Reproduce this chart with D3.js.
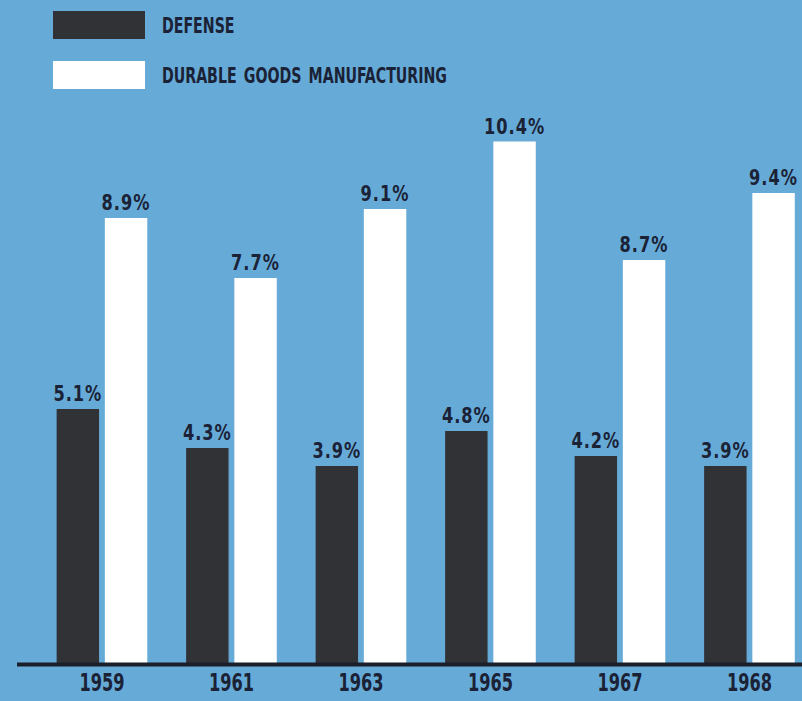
<!DOCTYPE html>
<html>
<head>
<meta charset="utf-8">
<script src="https://cdn.jsdelivr.net/npm/d3@7"></script>
<style>
  html, body { margin: 0; padding: 0; background: #66abd8; }
  svg { display: block; }
  text { font-family: "Liberation Sans Narrow", "DejaVu Sans Condensed", "Roboto", sans-serif; font-weight: bold; fill: #1b2236; }
</style>
</head>
<body>
<svg id="chart" width="802" height="701"></svg>
<script>
const years = ["1959", "1961", "1963", "1965", "1967", "1968"];
const seriesNames = ["DEFENSE", "DURABLE GOODS MANUFACTURING"];
// printed percentages
const defense = [5.1, 4.3, 3.9, 4.8, 4.2, 3.9];
const durable = [8.9, 7.7, 9.1, 10.4, 8.7, 9.4];
// bar heights as drawn in the picture (in % units)
const defenseDrawn = [5.08, 4.3, 3.94, 4.64, 4.14, 3.94];
const durableDrawn = [8.9, 7.7, 9.08, 10.43, 8.06, 9.4];
const seriesColors = ["#313236", "#ffffff"];

const svg = d3.select("#chart");
const W = 802, H = 701;

svg.append("rect").attr("width", W).attr("height", H).attr("fill", "#66abd8");

const baseY = 663;
const y = d3.scaleLinear().domain([0, 10]).range([baseY, baseY - 500]);

const x0 = d3.scaleBand().domain(years).range([37.2, 814.2]).paddingInner(0.3).paddingOuter(0.15);
const keys = ["defense", "durable"];
const x1 = d3.scaleBand().domain(keys).range([0, x0.bandwidth()]).paddingInner(0.12).paddingOuter(0);
const color = d3.scaleOrdinal().domain(keys).range(seriesColors);

const data = years.map((yr, i) => ({
  year: yr,
  defense: { label: defense[i], h: defenseDrawn[i] },
  durable: { label: durable[i], h: durableDrawn[i] }
}));

const groups = svg.append("g").selectAll("g")
  .data(data).join("g")
  .attr("transform", d => `translate(${x0(d.year)},0)`);

groups.selectAll("rect")
  .data(d => keys.map(k => ({ key: k, ...d[k] })))
  .join("rect")
  .attr("x", d => x1(d.key))
  .attr("y", d => y(d.h))
  .attr("width", x1.bandwidth())
  .attr("height", d => y(0) - y(d.h))
  .attr("fill", d => color(d.key));

groups.selectAll("text.val")
  .data(d => keys.map(k => ({ key: k, ...d[k] })))
  .join("text")
  .attr("class", "val")
  .attr("transform", d => `translate(${x1(d.key) + x1.bandwidth() / 2},${y(d.h) - 8}) scale(0.82,1)`)
  .attr("text-anchor", "middle")
  .attr("font-size", 22)
  .attr("letter-spacing", 1.2)
  .text(d => d.label.toFixed(1) + "%");

// baseline
svg.append("line")
  .attr("x1", 17).attr("x2", 802)
  .attr("y1", baseY + 1.5).attr("y2", baseY + 1.5)
  .attr("stroke", "#1a1f2a").attr("stroke-width", 4);

// x axis labels
const xAxis = d3.axisBottom(x0).tickSize(0).tickPadding(0);
const axG = svg.append("g").attr("transform", `translate(0,${baseY + 10})`).call(xAxis);
axG.select(".domain").remove();
axG.selectAll(".tick text")
  .attr("font-size", 25)
  .attr("font-family", "'Liberation Sans Narrow', 'DejaVu Sans Condensed', sans-serif")
  .attr("font-weight", "bold")
  .attr("fill", "#1b2236")
  .attr("y", 0)
  .attr("dy", "0.72em")
  .attr("transform", "scale(0.72,1)");

// legend
const legend = svg.append("g");
const legendY = [11, 61];
seriesNames.forEach((name, i) => {
  legend.append("rect")
    .attr("x", 53).attr("y", legendY[i])
    .attr("width", 92).attr("height", 28)
    .attr("fill", seriesColors[i]);
  legend.append("text")
    .attr("transform", `translate(162,${legendY[i] + 21.5}) scale(0.75,1)`)
    .attr("font-size", 21)
    .attr("word-spacing", 3)
    .text(name);
});
</script>
</body>
</html>
